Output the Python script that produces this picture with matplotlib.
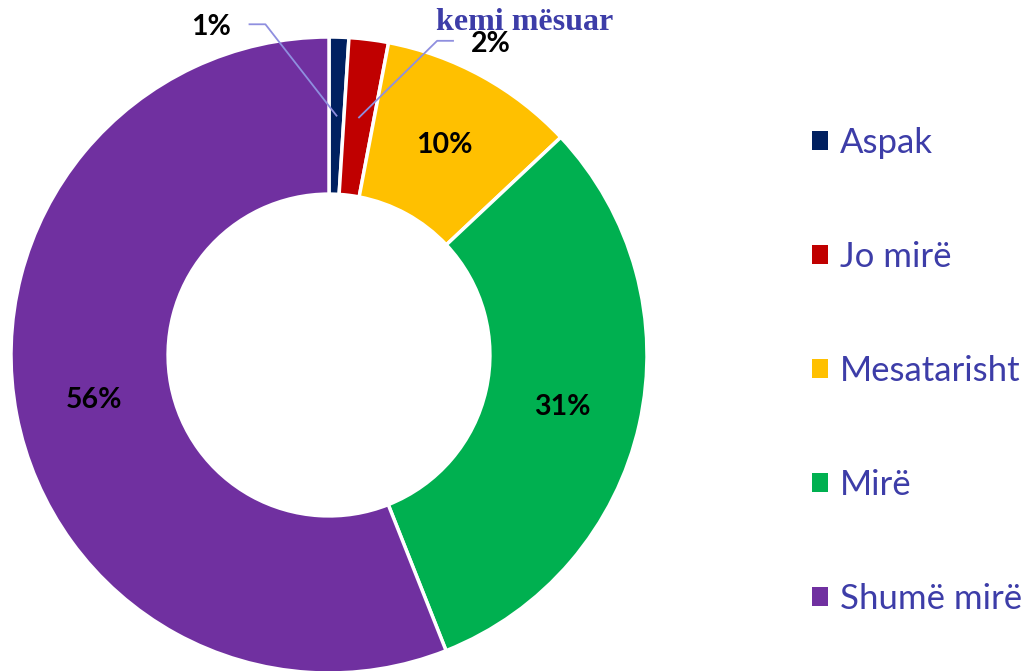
import numpy as np
import matplotlib.pyplot as plt
from matplotlib.patches import Patch

# answer categories and shares (%)
labels = ['Aspak', 'Jo mirë', 'Mesatarisht', 'Mirë', 'Shumë mirë']
values = [1, 2, 10, 31, 56]
colors = ['#002060', '#C00000', '#FFC000', '#00B050', '#7030A0']
title_text = 'kemi mësuar'

text_blue = '#3D3DA8'
ring = 0.494

fig = plt.figure(figsize=(10.26, 6.71), dpi=100)
# axes placed so the donut sits on the left side
ax = fig.add_axes([11 / 1026, -2 / 671, 636 / 1026, 636 / 671])

wedges, _ = ax.pie(values, colors=colors, startangle=90, counterclock=False,
                   radius=1, wedgeprops=dict(width=ring, edgecolor='white', linewidth=2.5))
ax.set_xlim(-1, 1)
ax.set_ylim(-1, 1)
ax.set_aspect('equal')
ax.axis('off')

# percent labels
r_mid = 1 - ring / 2
for w, v in zip(wedges, values):
    ang = np.deg2rad((w.theta1 + w.theta2) / 2)
    x, y = r_mid * np.cos(ang), r_mid * np.sin(ang)
    if v >= 5:
        ax.text(x, y, f'{v}%', ha='center', va='center', fontsize=20.5,
                fontweight='bold', family='Lato', color='black')

# small slices get callouts with leader lines
callouts = {0: (-0.37, 1.03), 1: (0.51, 0.978)}
for i, (tx, ty) in callouts.items():
    w = wedges[i]
    ang = np.deg2rad((w.theta1 + w.theta2) / 2)
    x, y = r_mid * np.cos(ang), r_mid * np.sin(ang)
    side = 1 if tx < 0 else -1
    elbow_x = tx + side * 0.12
    ax.plot([x, elbow_x + side * 0.05, elbow_x], [y, ty + 0.01, ty + 0.01],
            color='#8F8FDF', lw=1.3, clip_on=False)
    ax.text(tx, ty, f'{values[i]}%', ha='center', va='center', fontsize=20.5,
            fontweight='bold', family='Lato', color='black', clip_on=False)

fig.text(525 / 1026, 1 - 22 / 671, title_text, ha='center', va='center',
         fontsize=23, fontweight='bold', family='Liberation Serif', color=text_blue)

handles = [Patch(facecolor=c, edgecolor='none') for c in colors]
leg = fig.legend(handles, labels, loc='center left', bbox_to_anchor=(812 / 1026, 1 - 371 / 671),
                 frameon=False, borderpad=0, borderaxespad=0,
                 handlelength=0.46, handleheight=0.46, handletextpad=0.35,
                 labelspacing=2.36, prop={'family': 'Lato', 'size': 25})
for t in leg.get_texts():
    t.set_color(text_blue)

fig.savefig('out.png', dpi=100)
